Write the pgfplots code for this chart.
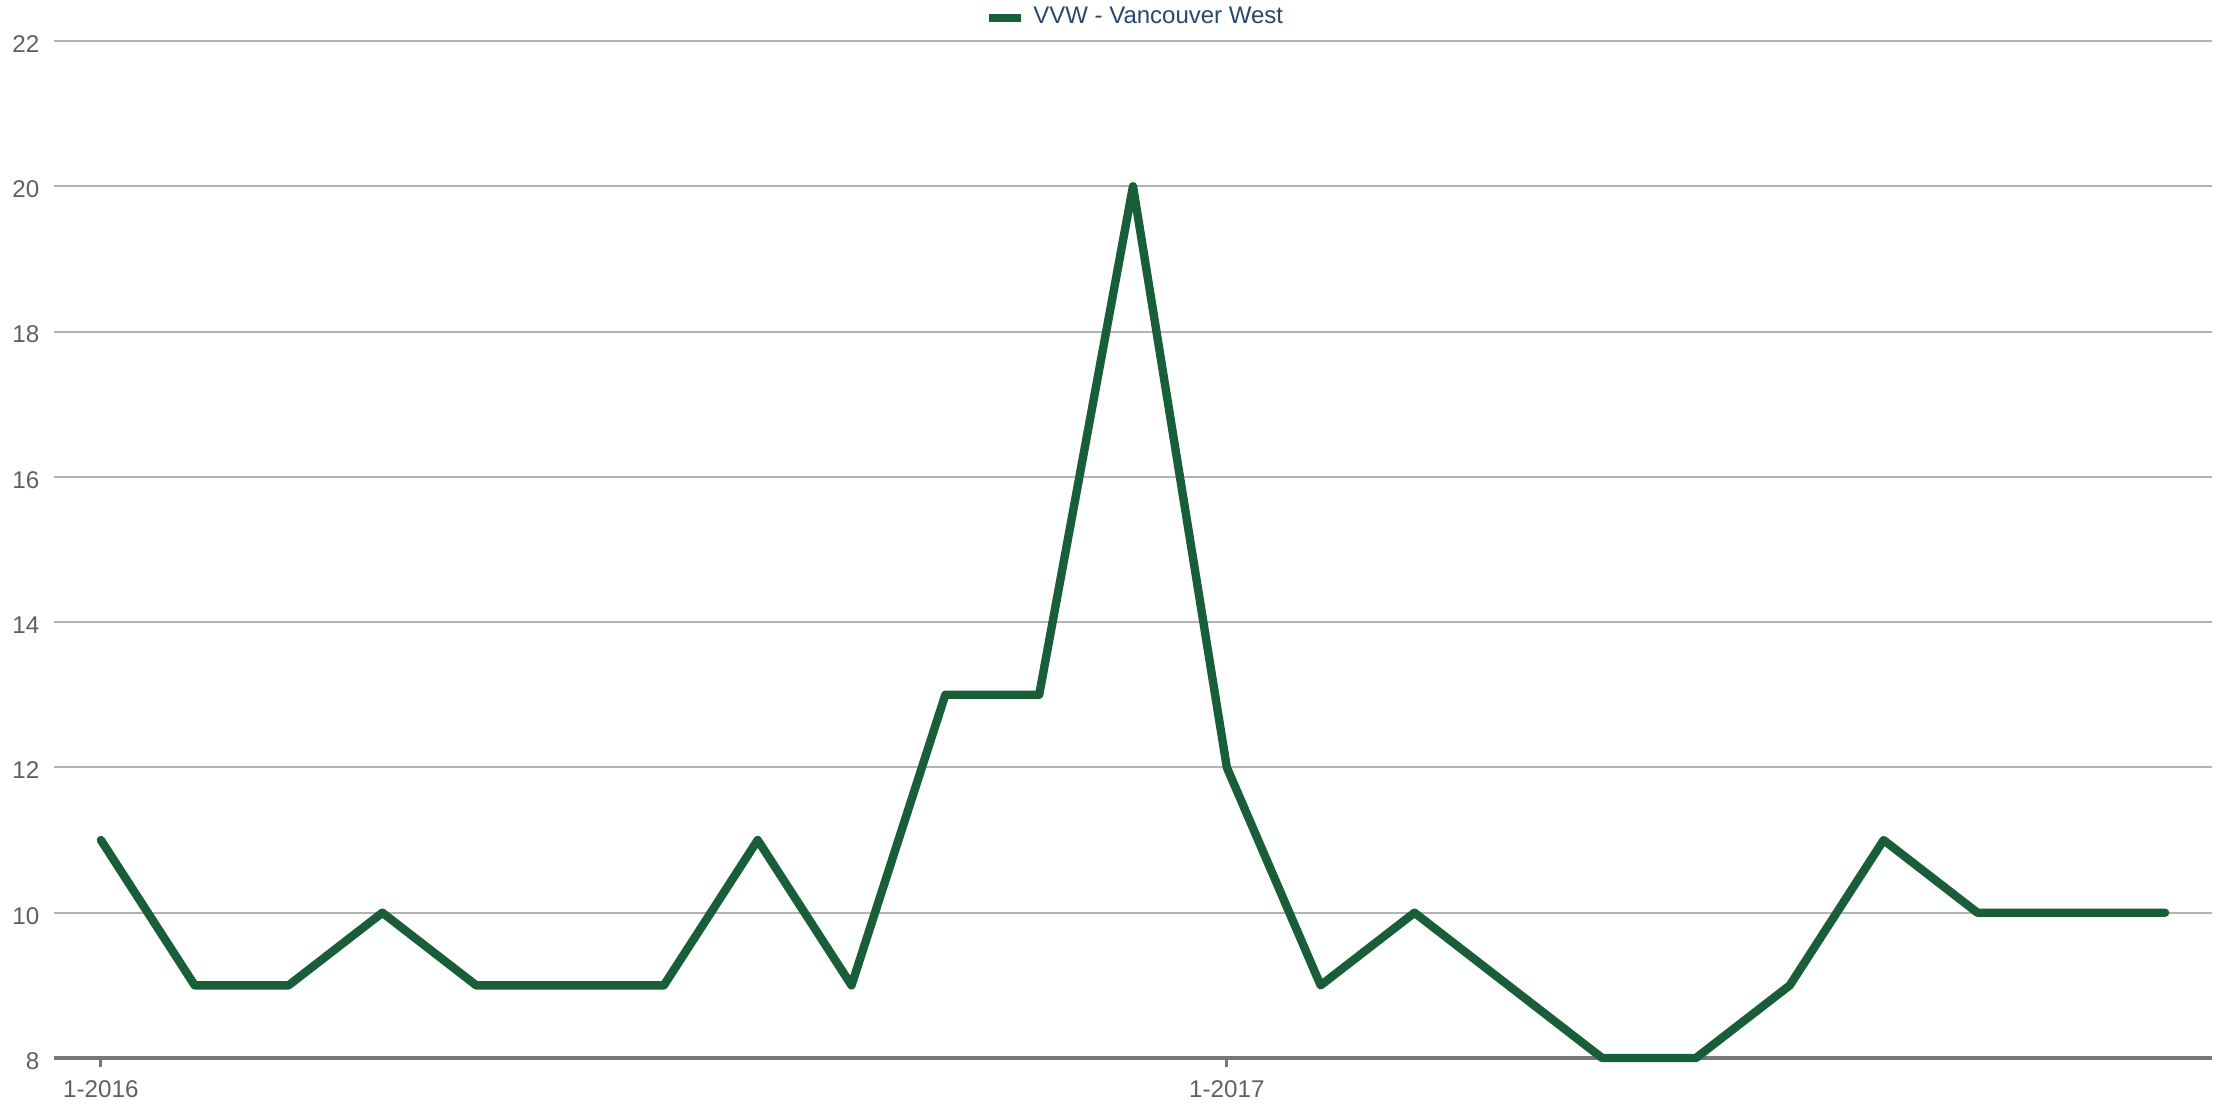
\documentclass[border=0pt]{standalone}
\usepackage{pgfplots}
\pgfplotsset{compat=1.18}
\usepackage{fontspec}
\setmainfont{Liberation Sans}
\definecolor{linegreen}{HTML}{185E38}
\definecolor{gridgray}{HTML}{B3B3B3}
\definecolor{axisgray}{HTML}{777777}
\definecolor{ticktext}{HTML}{606060}
\definecolor{legtext}{HTML}{27486B}
\begin{document}
\begin{tikzpicture}[x=1pt,y=1pt]
\useasboundingbox (0,0) rectangle (560,276);
\begin{axis}[
  at={(13.5pt,11.5pt)}, anchor=south west,
  scale only axis, width=539.5pt, height=254.25pt,
  xmin=-0.5, xmax=22.5, ymin=8, ymax=22,
  axis lines=left, axis line style={-},
  y axis line style={draw=none},
  x axis line style={draw=axisgray, line width=0.85pt},
  xtick={0,12}, xticklabels={1-2016,1-2017},
  ytick={8,10,...,22},
  tick align=outside,
  xtick style={draw=axisgray, line width=0.75pt},
  major tick length=2.25pt,
  ytick style={draw=none},
  ymajorgrids, grid style={draw=gridgray, line width=0.5pt},
  /pgf/number format/assume math mode=true,
  tick label style={font=\fontsize{6.05}{7.2}\selectfont, text=ticktext, inner sep=0pt},
  yticklabel style={anchor=east, xshift=-1.2pt, yshift=-0.75pt},
  xticklabel style={anchor=north, yshift=-3.25pt},
  legend style={at={(axis description cs:0.5,1.0246)}, anchor=center, xshift=1.25pt, yshift=-0.5pt, draw=none, fill=none,
    font=\fontsize{6.0}{7.2}\selectfont, text=legtext, inner sep=0pt, outer sep=0pt,
    /tikz/every even column/.append style={column sep=0pt}},
  legend image code/.code={\draw[line width=2.1pt,line cap=butt] (0pt,0pt) -- (8pt,0pt);},
  legend cell align=left,
  clip=false,
]
\addplot[color=linegreen, line width=2.1pt, line cap=round, line join=round, mark=none]
  coordinates {
  (0,11) (1,9) (2,9) (3,10) (4,9) (5,9) (6,9) (7,11) (8,9) (9,13) (10,13) (11,20)
  (12,12) (13,9) (14,10) (15,9) (16,8) (17,8) (18,9) (19,11) (20,10) (21,10) (22,10)
  };
\addlegendentry{VVW - Vancouver West}
\end{axis}
\end{tikzpicture}
\end{document}
